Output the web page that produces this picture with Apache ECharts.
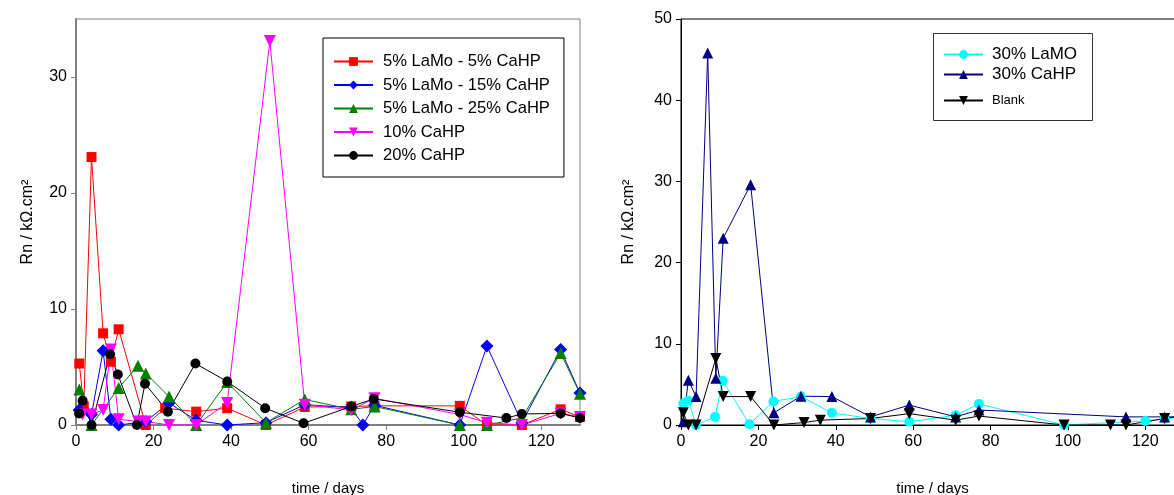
<!DOCTYPE html>
<html>
<head>
<meta charset="utf-8">
<script src="https://cdn.jsdelivr.net/npm/echarts@6/dist/echarts.min.js"></script>
<style>
html,body{margin:0;padding:0;background:#fff;}
#c{width:1174px;height:495px;}
</style>
</head>
<body>
<div id="c"></div>
<script>
// ---- Left chart data ----
const namesLeft = ['5% LaMo - 5% CaHP', '5% LaMo - 15% CaHP', '5% LaMo - 25% CaHP', '10% CaHP', '20% CaHP'];
const daysRed = [0.85, 2, 4, 7, 9, 11, 18, 23, 31, 39, 49, 59, 71, 77, 99, 106, 115, 125, 130];
const valsRed = [5.3, 1.6, 23.1, 7.9, 5.45, 8.25, 0, 1.45, 1.15, 1.45, 0, 1.55, 1.6, 1.65, 1.65, 0, 0, 1.35, 0.7];
const daysBlue = [0.8, 4, 7, 9, 11, 18, 24, 31, 39, 49, 59, 71, 74, 77, 99, 106, 115, 125, 130];
const valsBlue = [1.3, 0.9, 6.4, 0.5, 0, 0.3, 1.9, 0.4, 0, 0.2, 1.75, 1.5, 0, 1.7, 0, 6.8, 0.2, 6.5, 2.75];
const daysGreen = [0.85, 4, 11, 16, 18, 24, 31, 39, 49, 59, 71, 77, 99, 106, 115, 125, 130];
const valsGreen = [3.05, 0, 3.2, 5.1, 4.45, 2.45, 0, 3.7, 0.2, 2.2, 1.35, 1.6, 0, 0, 0.6, 6.2, 2.7];
const daysMagenta = [1.7, 4, 7, 9, 11, 16, 18, 24, 31, 39, 50, 59, 71, 77, 99, 106, 115, 125, 130];
const valsMagenta = [0.9, 0.9, 1.3, 6.5, 0.5, 0.3, 0.3, 0, 0, 1.9, 33.1, 1.75, 1.3, 2.3, 0.9, 0.2, 0, 1.0, 0.7];
const daysBlack = [0.8, 1.7, 4, 8.8, 10.8, 15.7, 17.8, 23.7, 30.8, 39, 48.8, 58.7, 71, 76.8, 99, 111, 115, 125, 130];
const valsBlack = [1.0, 2.1, 0, 6.1, 4.35, 0, 3.55, 1.15, 5.3, 3.75, 1.45, 0.15, 1.6, 2.25, 1.1, 0.6, 0.95, 1.0, 0.6];

// ---- Right chart data ----
const namesRight = ['30% LaMO', '30% CaHP', 'Blank'];
const daysCyan = [0.6, 1.9, 3.9, 8.8, 10.8, 17.7, 23.9, 31, 39, 49, 59, 71, 77, 99, 120, 125, 130];
const valsCyan = [2.65, 3.0, 0, 1.0, 5.45, 0.1, 2.9, 3.5, 1.5, 0.8, 0.4, 1.2, 2.6, 0, 0.5, 0.8, 0.9];
const daysNavy = [0.6, 1.9, 3.9, 6.9, 9, 10.9, 18, 24, 31, 39, 49, 59, 71, 77, 115, 125, 130];
const valsNavy = [0.4, 5.5, 3.5, 45.8, 5.75, 23.0, 29.6, 1.5, 3.55, 3.5, 1.0, 2.45, 1.0, 1.85, 1.0, 1.0, 1.0];
const daysBlank = [0.6, 1.9, 3.9, 9, 10.9, 18, 24, 31.8, 36, 49, 59, 71, 77, 99, 111, 115, 125, 130];
const valsBlank = [1.5, 0, 0, 8.2, 3.5, 3.5, 0, 0.3, 0.6, 0.8, 1.4, 0.6, 1.1, 0, 0, 0, 0.8, 1.2];

const zip = (xs, ys) => xs.map((x, i) => [x, ys[i]]);
const FONT = 'Liberation Sans, Arial, sans-serif';

function mkSeries(name, xs, ys, color, symbol, size, rotate, axisIdx) {
  return {
    name: name, type: 'line', data: zip(xs, ys),
    xAxisIndex: axisIdx, yAxisIndex: axisIdx,
    symbol: symbol, symbolSize: size, symbolRotate: rotate,
    lineStyle: { color: color, width: 1 },
    itemStyle: { color: color, borderWidth: 0 },
    emphasis: { disabled: true },
    animation: false
  };
}

function xAxis(gi, lineColor, lw) {
  return {
    type: 'value', gridIndex: gi, min: 0, max: 130, interval: 20,
    name: 'time / days', nameLocation: 'middle', nameGap: 56,
    nameTextStyle: { fontFamily: FONT, fontSize: 15, color: '#000' },
    axisLine: { show: true, onZero: false, lineStyle: { color: lineColor, width: lw } },
    axisTick: { show: true, length: 5, inside: false, lineStyle: { color: lineColor, width: 1 } },
    axisLabel: { fontFamily: FONT, fontSize: 16, color: '#000', margin: 9, showMaxLabel: false },
    splitLine: { show: false }
  };
}
function yAxis(gi, max, lineColor, lw, gap, showMax) {
  return {
    type: 'value', gridIndex: gi, min: 0, max: max, interval: 10,
    name: 'Rn / kΩ.cm²', nameLocation: 'middle', nameGap: gap, nameRotate: 90,
    nameTextStyle: { fontFamily: FONT, fontSize: 16, color: '#000' },
    axisLine: { show: true, onZero: false, lineStyle: { color: lineColor, width: lw } },
    axisTick: { show: true, length: 5, inside: false, lineStyle: { color: lineColor, width: 1 } },
    axisLabel: { fontFamily: FONT, fontSize: 16, color: '#000', margin: 9, showMaxLabel: showMax },
    splitLine: { show: false }
  };
}

const chart = echarts.init(document.getElementById('c'), null, { renderer: 'canvas' });
chart.setOption({
  backgroundColor: '#fff',
  animation: false,
  grid: [
    { left: 76, top: 19, width: 504, height: 406, outerBoundsMode: 'none', containLabel: false, show: true, borderColor: '#808080', borderWidth: 1, backgroundColor: 'transparent' },
    { left: 681, top: 19, width: 503, height: 406, outerBoundsMode: 'none', containLabel: false, show: true, borderColor: '#000', borderWidth: 1, backgroundColor: 'transparent' }
  ],
  xAxis: [xAxis(0, '#808080', 2), xAxis(1, '#000', 1)],
  yAxis: [yAxis(0, 35, '#808080', 2, 40, false), yAxis(1, 50, '#000', 1, 44, true)],
  graphic: [
    { type: 'rect', shape: { x: 933.5, y: 33.5, width: 159, height: 87 }, style: { fill: 'none', stroke: '#333', lineWidth: 1 }, z: 10 }
  ],
  legend: [
    {
      data: namesLeft, left: 323, top: 38, orient: 'vertical',
      padding: [15, 14, 13, 10], itemGap: 6.5, itemWidth: 39, itemHeight: 11,
      borderColor: '#000', borderWidth: 1, backgroundColor: '#fff',
      textStyle: { fontFamily: FONT, fontSize: 16.6, color: '#000', lineHeight: 16, padding: [0, 0, 0, 5] },
      selectedMode: false
    },
    {
      data: ['30% LaMO', '30% CaHP'], left: 943, top: 46, orient: 'vertical',
      padding: 0, itemGap: 3, itemWidth: 39, itemHeight: 11,
      textStyle: { fontFamily: FONT, fontSize: 17, color: '#000', lineHeight: 17, padding: [0, 0, 0, 4] },
      selectedMode: false
    },
    {
      data: ['Blank'], left: 943, top: 94, orient: 'vertical',
      padding: 0, itemWidth: 39, itemHeight: 11,
      textStyle: { fontFamily: FONT, fontSize: 13, color: '#000', lineHeight: 13, padding: [0, 0, 0, 4] },
      selectedMode: false
    }
  ],
  series: [
    mkSeries(namesLeft[0], daysRed, valsRed, '#FF0000', 'rect', 10, 0, 0),
    mkSeries(namesLeft[1], daysBlue, valsBlue, '#0000FF', 'diamond', 13, 0, 0),
    mkSeries(namesLeft[2], daysGreen, valsGreen, '#008000', 'triangle', 12, 0, 0),
    mkSeries(namesLeft[3], daysMagenta, valsMagenta, '#FF00FF', 'triangle', 12, 180, 0),
    mkSeries(namesLeft[4], daysBlack, valsBlack, '#000000', 'circle', 10, 0, 0),
    mkSeries(namesRight[0], daysCyan, valsCyan, '#00FFFF', 'circle', 10, 0, 1),
    mkSeries(namesRight[1], daysNavy, valsNavy, '#000080', 'triangle', 11, 0, 1),
    mkSeries(namesRight[2], daysBlank, valsBlank, '#000000', 'triangle', 11, 180, 1)
  ]
});
</script>
</body>
</html>
